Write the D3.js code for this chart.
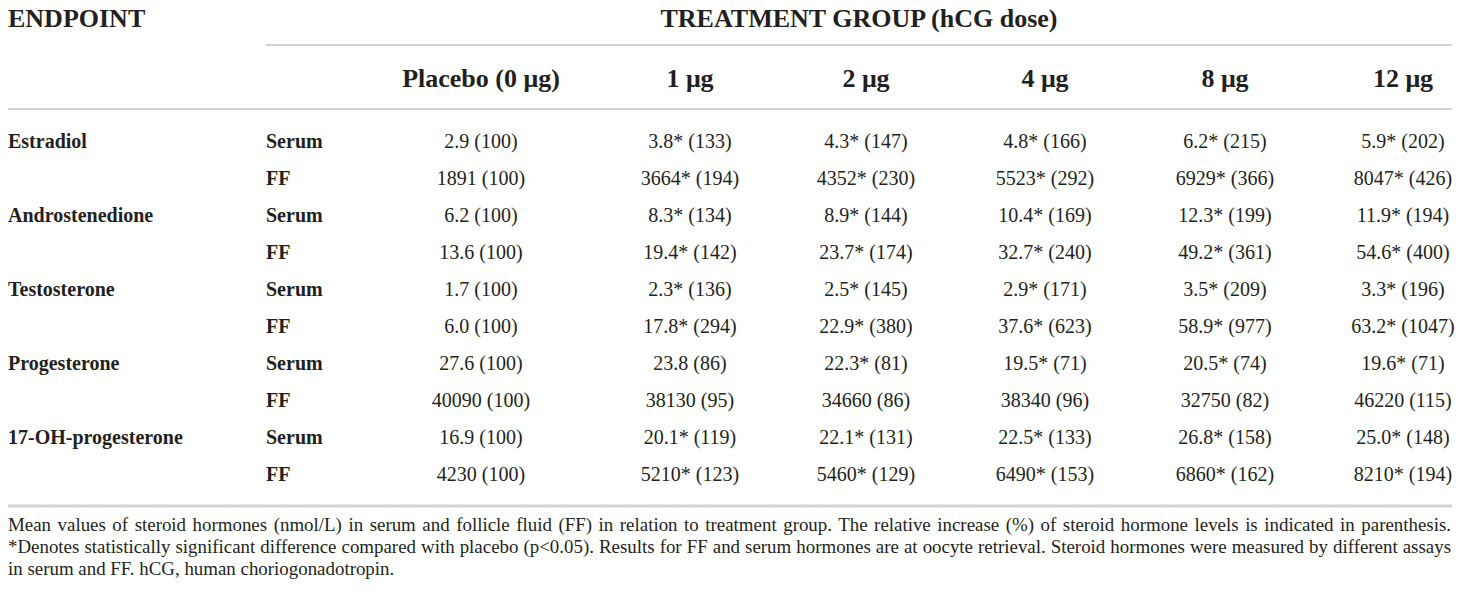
<!DOCTYPE html>
<html>
<head>
<meta charset="utf-8">
<script src="https://cdn.jsdelivr.net/npm/d3@7"></script>
<style>
  body { margin: 0; background: #fff; }
  text { font-family: "Liberation Serif", "DejaVu Serif", serif; fill: #231f20; }
</style>
</head>
<body>
<svg id="table" width="1460" height="600"></svg>
<script>
// table content
const endpoints = ["Estradiol", "Androstenedione", "Testosterone", "Progesterone", "17-OH-progesterone"];
const media = ["Serum", "FF"];
const groups = ["Placebo (0 μg)", "1 μg", "2 μg", "4 μg", "8 μg", "12 μg"];

// mean values (nmol/L), one row per endpoint x medium
const means = [
  [2.9, 3.8, 4.3, 4.8, 6.2, 5.9],
  [1891, 3664, 4352, 5523, 6929, 8047],
  [6.2, 8.3, 8.9, 10.4, 12.3, 11.9],
  [13.6, 19.4, 23.7, 32.7, 49.2, 54.6],
  [1.7, 2.3, 2.5, 2.9, 3.5, 3.3],
  [6.0, 17.8, 22.9, 37.6, 58.9, 63.2],
  [27.6, 23.8, 22.3, 19.5, 20.5, 19.6],
  [40090, 38130, 34660, 38340, 32750, 46220],
  [16.9, 20.1, 22.1, 22.5, 26.8, 25.0],
  [4230, 5210, 5460, 6490, 6860, 8210]
];
// relative increase (%)
const relIncrease = [
  [100, 133, 147, 166, 215, 202],
  [100, 194, 230, 292, 366, 426],
  [100, 134, 144, 169, 199, 194],
  [100, 142, 174, 240, 361, 400],
  [100, 136, 145, 171, 209, 196],
  [100, 294, 380, 623, 977, 1047],
  [100, 86, 81, 71, 74, 71],
  [100, 95, 86, 96, 82, 115],
  [100, 119, 131, 133, 158, 148],
  [100, 123, 129, 153, 162, 194]
];
// 1 = significant vs placebo (p<0.05)
const significant = [
  [0, 1, 1, 1, 1, 1],
  [0, 1, 1, 1, 1, 1],
  [0, 1, 1, 1, 1, 1],
  [0, 1, 1, 1, 1, 1],
  [0, 1, 1, 1, 1, 1],
  [0, 1, 1, 1, 1, 1],
  [0, 0, 1, 1, 1, 1],
  [0, 0, 0, 0, 0, 0],
  [0, 1, 1, 1, 1, 1],
  [0, 1, 1, 1, 1, 1]
];
const decimals = [1, 0, 1, 1, 1, 1, 1, 0, 1, 0];

const footnote = [
  "Mean values of steroid hormones (nmol/L) in serum and follicle fluid (FF) in relation to treatment group. The relative increase (%) of steroid hormone levels is indicated in parenthesis.",
  "*Denotes statistically significant difference compared with placebo (p<0.05). Results for FF and serum hormones are at oocyte retrieval. Steroid hormones were measured by different assays",
  "in serum and FF. hCG, human choriogonadotropin."
];

const svg = d3.select("#table");
const left = 8, right = 1452;
const ruleColor = "#d2d2d2";

// column centres and row baselines
const x = d3.scaleOrdinal().domain(groups).range([481, 690, 866, 1045, 1225, 1403]);
const y = d3.scaleLinear().domain([0, means.length - 1]).range([148, 481]);

// header
svg.append("text").attr("x", left).attr("y", 27)
   .attr("font-size", 26).attr("font-weight", "bold").text("ENDPOINT");
svg.append("text").attr("x", (266 + right) / 2).attr("y", 27)
   .attr("text-anchor", "middle")
   .attr("font-size", 26).attr("font-weight", "bold").text("TREATMENT GROUP (hCG dose)");

svg.append("line").attr("x1", 266).attr("x2", right).attr("y1", 45).attr("y2", 45)
   .attr("stroke", ruleColor).attr("stroke-width", 2);

svg.selectAll("text.col")
   .data(groups)
   .join("text")
   .attr("class", "col")
   .attr("x", d => x(d))
   .attr("y", 87)
   .attr("text-anchor", "middle")
   .attr("font-size", 26)
   .attr("font-weight", "bold")
   .text(d => d);

svg.append("line").attr("x1", left).attr("x2", right).attr("y1", 109).attr("y2", 109)
   .attr("stroke", ruleColor).attr("stroke-width", 2);

// body rows
const rows = means.map((vals, i) => ({
  i,
  endpoint: i % 2 === 0 ? endpoints[i / 2] : "",
  medium: media[i % 2],
  cells: vals.map((v, j) => ({
    group: groups[j],
    label: d3.format(`.${decimals[i]}f`)(v) + (significant[i][j] ? "*" : "") + " (" + relIncrease[i][j] + ")"
  }))
}));

const row = svg.selectAll("g.row")
   .data(rows)
   .join("g")
   .attr("class", "row")
   .attr("transform", d => `translate(0,${y(d.i)})`);

row.append("text")
   .attr("x", left)
   .attr("font-size", 20)
   .attr("font-weight", "bold")
   .text(d => d.endpoint);

row.append("text")
   .attr("x", 266)
   .attr("font-size", 20)
   .attr("font-weight", "bold")
   .text(d => d.medium);

row.selectAll("text.cell")
   .data(d => d.cells)
   .join("text")
   .attr("class", "cell")
   .attr("x", d => x(d.group))
   .attr("text-anchor", "middle")
   .attr("font-size", 20)
   .text(d => d.label);

svg.append("line").attr("x1", left).attr("x2", right).attr("y1", 506).attr("y2", 506)
   .attr("stroke", ruleColor).attr("stroke-width", 3);

// footnote: largest size (max 20px) at which the long lines fit, then justify by word spacing
const target = right - left;
const notes = svg.selectAll("text.note")
   .data(footnote)
   .join("text")
   .attr("class", "note")
   .attr("x", left)
   .attr("y", (d, i) => 531 + i * 22)
   .attr("font-size", 20)
   .text(d => d);

let noteSize = 20;
notes.each(function(d, i) {
  if (i < footnote.length - 1) {
    noteSize = Math.min(noteSize, Math.floor(20 * (target - 2) / this.getComputedTextLength() * 10) / 10);
  }
});
notes.attr("font-size", noteSize)
   .each(function(d, i) {
     if (i === footnote.length - 1) return;
     const len = this.getComputedTextLength();
     const gaps = d.split(" ").length - 1;
     d3.select(this).attr("word-spacing", Math.max(0, (target - 1 - len) / gaps));
   });
</script>
</body>
</html>
